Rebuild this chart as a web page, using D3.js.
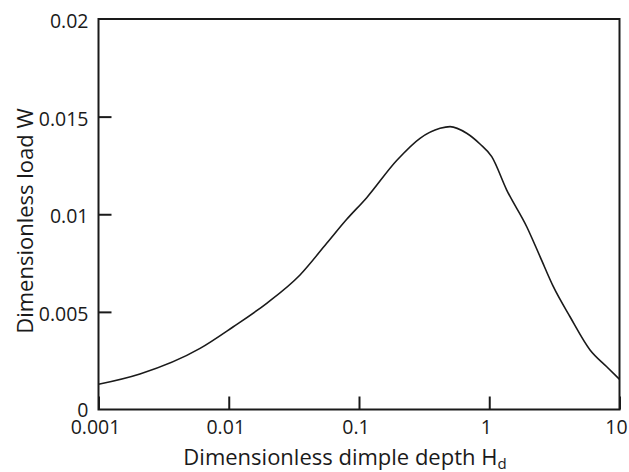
<!DOCTYPE html>
<html>
<head>
<meta charset="utf-8">
<script src="https://cdn.jsdelivr.net/npm/d3@7"></script>
<style>
  html, body { margin: 0; padding: 0; background: #fff; }
  svg { display: block; }
  text { font-family: "Open Sans", sans-serif; fill: #1a1a1a; }
</style>
</head>
<body>
<svg id="chart" width="629" height="472"></svg>
<script>
// Data
const depthHd = [0.001, 0.00208, 0.00602, 0.01084, 0.01956, 0.03524, 0.05649, 0.0805, 0.1146, 0.1946, 0.294, 0.419, 0.5, 0.671, 0.849, 1.045, 1.362, 1.94, 2.455, 3.106, 4.17, 5.94, 7.98, 10];
const loadW   = [0.00129, 0.00182, 0.00313, 0.00424, 0.00544, 0.00689, 0.00851, 0.00974, 0.01085, 0.01275, 0.01389, 0.0144, 0.01449, 0.01415, 0.0136, 0.01295, 0.01124, 0.00936, 0.00783, 0.00629, 0.00475, 0.00305, 0.00219, 0.00155];
const xTicks = [0.001, 0.01, 0.1, 1, 10];
const xTickLabels = ["0.001", "0.01", "0.1", "1", "10"];
const yTicks = [0, 0.005, 0.01, 0.015, 0.02];
const yTickLabels = ["0", "0.005", "0.01", "0.015", "0.02"];

const svg = d3.select("#chart");
const mLeft = 98.5, mRight = 619.5, mTop = 19, mBottom = 409.5;

const x = d3.scaleLog().domain([0.001, 10]).range([mLeft, mRight]);
const y = d3.scaleLinear().domain([0, 0.02]).range([mBottom, mTop]);

const ink = "#1a1a1a";

// Frame
svg.append("rect")
  .attr("x", mLeft).attr("y", mTop)
  .attr("width", mRight - mLeft).attr("height", mBottom - mTop)
  .attr("fill", "none").attr("stroke", ink).attr("stroke-width", 2);

// X axis (ticks inside)
const xAxis = d3.axisBottom(x).tickValues(xTicks).tickSize(-13).tickFormat(() => "");
const gx = svg.append("g").attr("transform", `translate(0,${mBottom})`).call(xAxis);
gx.select(".domain").remove();
gx.selectAll(".tick line").attr("stroke", ink).attr("stroke-width", 2);
svg.append("g").selectAll("text").data(xTicks).join("text")
  .attr("x", d => x(d) - 3)
  .attr("y", 433.5)
  .attr("text-anchor", "middle")
  .attr("font-size", "19.5px")
  .text((d, i) => xTickLabels[i]);

// Y axis (ticks inside)
const yAxis = d3.axisLeft(y).tickValues(yTicks.slice(1, 4)).tickSize(-13).tickFormat(() => "");
const gy = svg.append("g").attr("transform", `translate(${mLeft},0)`).call(yAxis);
gy.select(".domain").remove();
gy.selectAll(".tick line").attr("stroke", ink).attr("stroke-width", 2);
svg.append("g").selectAll("text").data(yTicks).join("text")
  .attr("x", 88.5)
  .attr("y", (d, i) => i === 0 ? 417 : y(d) + 9)
  .attr("text-anchor", "end")
  .attr("font-size", "19.5px")
  .text((d, i) => yTickLabels[i]);

// Curve
const pts = depthHd.map((d, i) => [d, loadW[i]]);
svg.append("path")
  .datum(pts)
  .attr("fill", "none")
  .attr("stroke", ink)
  .attr("stroke-width", 1.6)
  .attr("stroke-linejoin", "round")
  .attr("d", d3.line().x(d => x(d[0])).y(d => y(d[1])).curve(d3.curveMonotoneX));

// Axis titles
const xt = svg.append("text")
  .attr("x", 345).attr("y", 465)
  .attr("text-anchor", "middle")
  .attr("font-size", "22px");
xt.append("tspan").text("Dimensionless dimple depth H");
xt.append("tspan").attr("font-size", "15px").attr("dy", 4).text("d");

svg.append("text")
  .attr("transform", "translate(33,221) rotate(-90)")
  .attr("text-anchor", "middle")
  .attr("font-size", "22px")
  .text("Dimensionless load W");
</script>
</body>
</html>
